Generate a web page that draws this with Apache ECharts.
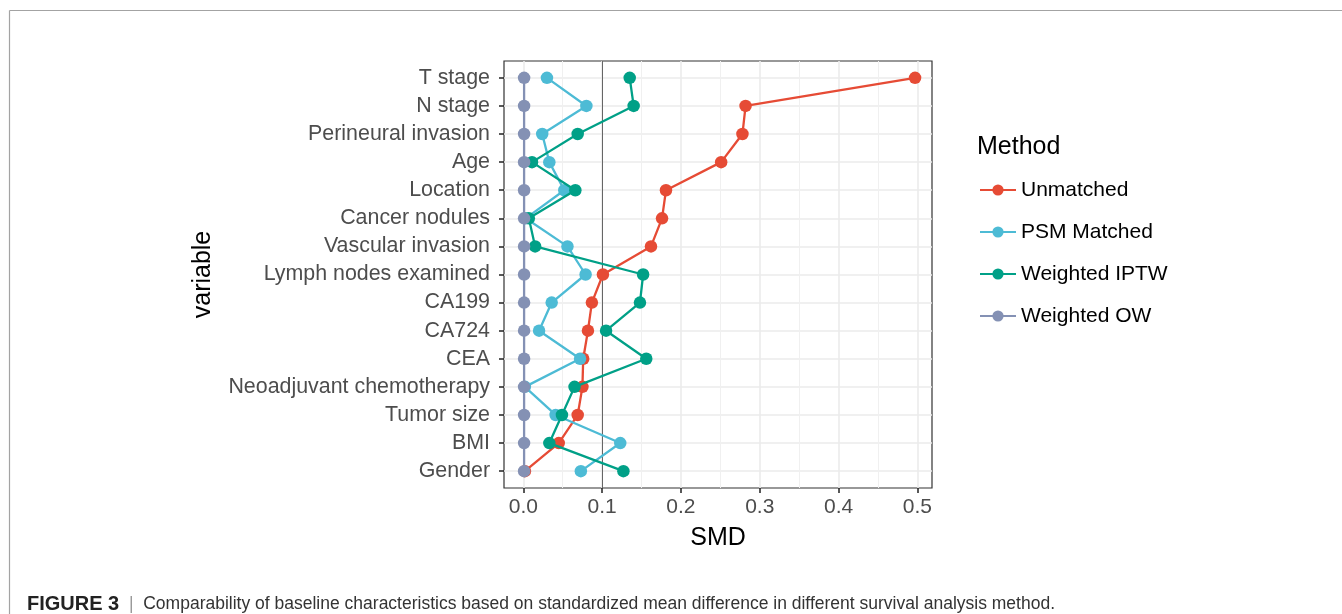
<!DOCTYPE html>
<html><head><meta charset="utf-8">
<script src="https://cdn.jsdelivr.net/npm/echarts@6/dist/echarts.min.js"></script>
<style>html,body{margin:0;padding:0;background:#fff}#c{width:1342px;height:614px}</style>
</head><body><div id="c"></div>
<script>
const categories = ["T stage","N stage","Perineural invasion","Age","Location","Cancer nodules","Vascular invasion","Lymph nodes examined","CA199","CA724","CEA","Neoadjuvant chemotherapy","Tumor size","BMI","Gender"];
const unmatched    = [0.497,0.282,0.278,0.251,0.181,0.176,0.162,0.101,0.087,0.082,0.076,0.075,0.069,0.045,0.002];
const psmMatched   = [0.030,0.080,0.024,0.033,0.052,0.003,0.056,0.079,0.036,0.020,0.072,0.002,0.041,0.123,0.073];
const weightedIPTW = [0.135,0.140,0.069,0.011,0.066,0.007,0.015,0.152,0.148,0.105,0.156,0.065,0.049,0.033,0.127];
const weightedOW   = [0.001,0.001,0.001,0.001,0.001,0.001,0.001,0.001,0.001,0.001,0.001,0.001,0.001,0.001,0.001];
const methodNames = ["Unmatched","PSM Matched","Weighted IPTW","Weighted OW"];
const methodColors = ["#E64B35","#4DBBD5","#00A087","#8491B4"];
const xTicks = [0,0.1,0.2,0.3,0.4,0.5];
const xMinorTicks = [0.05,0.15,0.25,0.35,0.45];
const refLine = 0.1;
const yIndex = categories.map((c,i)=>i);

const FONT = '"Liberation Sans", Arial, Helvetica, sans-serif';
const values = [unmatched, psmMatched, weightedIPTW, weightedOW];

const chart = echarts.init(document.getElementById('c'), null, {renderer:'canvas'});
const grid = {left:504, top:61, width:428, height:427, show:true, borderColor:'#333', borderWidth:1.2, backgroundColor:'transparent', containLabel:false};

const series = values.map((arr, k) => ({
  name: methodNames[k],
  type: 'line',
  xAxisIndex: 0, yAxisIndex: 0,
  data: arr.map((v,i)=>[v,i]),
  symbol: 'circle',
  symbolSize: 12.5,
  showSymbol: true,
  lineStyle: {color: methodColors[k], width: 2.3},
  itemStyle: {color: methodColors[k]},
  emphasis: {disabled: true},
  animation: false,
  z: 3 + k,
  markLine: k === 0 ? {
    silent: true, symbol: ['none','none'], label: {show:false},
    lineStyle: {color:'#666', width:1, type:'solid'},
    data: [{xAxis: refLine}], animation:false, z: 1
  } : undefined
}));

chart.setOption({
  animation: false,
  textStyle: {fontFamily: FONT},
  grid: [grid],
  xAxis: [{
    type:'value', min:-0.0245, max:0.5185, gridIndex:0, position:'bottom',
    name:'SMD', nameLocation:'middle', nameGap:38,
    nameTextStyle:{fontSize:25, color:'#000', fontFamily:FONT},
    axisLine:{show:false, onZero:false},
    axisTick:{show:true, length:5, lineStyle:{color:'#222', width:1.5}, customValues: xTicks},
    axisLabel:{show:true, customValues: xTicks, fontSize:21, color:'#4d4d4d', margin:9, fontFamily:FONT,
      formatter: v => Number(v).toFixed(1)},
    splitLine:{show:true, lineStyle:{color:'#ebebeb', width:1.6}}
  },{
    type:'value', min:-0.0245, max:0.5185, gridIndex:0, position:'bottom',
    axisLine:{show:false, onZero:false},
    axisTick:{show:false, customValues: xMinorTicks},
    axisLabel:{show:false, customValues: xMinorTicks},
    splitLine:{show:true, lineStyle:{color:'#f0f0f0', width:1}}
  }],
  yAxis: [{
    type:'value', inverse:true, min:-0.6, max:14.6, gridIndex:0, position:'left',
    name:'variable', nameLocation:'middle', nameRotate:90, nameGap:288,
    nameTextStyle:{fontSize:25, color:'#000', fontFamily:FONT},
    axisLine:{show:false, onZero:false},
    axisTick:{show:true, length:5, lineStyle:{color:'#222', width:1.5}, customValues: yIndex},
    axisLabel:{show:true, customValues: yIndex, fontSize:21.4, color:'#4d4d4d', margin:14, fontFamily:FONT,
      formatter: v => categories[Math.round(v)]},
    splitLine:{show:true, lineStyle:{color:'#ebebeb', width:1.6}}
  }],
  legend: {
    orient:'vertical', left:974, top:172,
    itemWidth:36, itemHeight:14, itemGap:16,
    data: methodNames,
    textStyle:{fontSize:21, color:'#000', lineHeight:26, fontFamily:FONT},
    selectedMode:false
  },
  title: [{
    text:'Method', left:972, top:130,
    textStyle:{fontSize:25, fontWeight:'normal', color:'#000', fontFamily:FONT}
  },{
    text:'{b|FIGURE 3}{s|  |  }{t|Comparability of baseline characteristics based on standardized mean difference in different survival analysis method.}',
    left:22, top:589,
    textStyle:{fontSize:17.5, fontWeight:'normal', fontFamily:FONT, rich:{
      b:{fontSize:20, fontWeight:'bold', color:'#222', fontFamily:FONT},
      s:{fontSize:17.5, fontWeight:'normal', color:'#999', fontFamily:FONT},
      t:{fontSize:17.5, fontWeight:'normal', color:'#333', fontFamily:FONT}
    }}
  }],
  graphic: [
    {type:'line', shape:{x1:9.5, y1:10.5, x2:1342, y2:10.5}, style:{stroke:'#a3a3a3', lineWidth:1.2}, silent:true},
    {type:'line', shape:{x1:9.5, y1:10.5, x2:9.5, y2:614}, style:{stroke:'#a3a3a3', lineWidth:1.2}, silent:true}
  ],
  series: series
});
</script></body></html>
